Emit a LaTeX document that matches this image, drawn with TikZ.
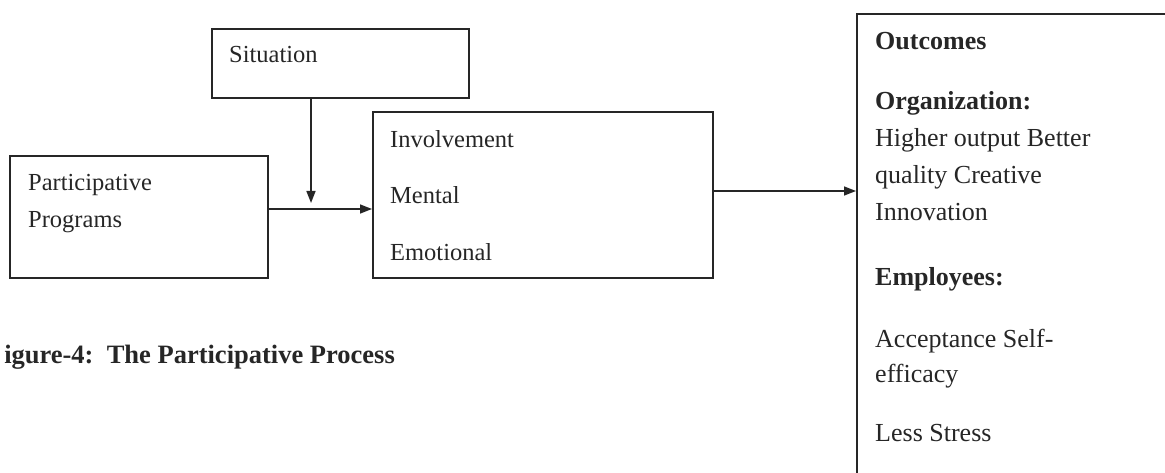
\documentclass[tikz,border=0pt]{standalone}
\usepackage{fontspec}
\setmainfont{Liberation Serif}
\usetikzlibrary{arrows.meta}
\definecolor{ink}{HTML}{262626}
\tikzset{
  boxnode/.style={draw=ink, line width=1.6pt, inner sep=0pt, anchor=north west},
  lbl/.style={anchor=base west, inner sep=0pt, text=ink, font=\fontsize{24.5}{29}\selectfont},
  rlbl/.style={anchor=base west, inner sep=0pt, text=ink, font=\fontsize{26}{31}\selectfont},
  rbold/.style={rlbl, font=\fontsize{26}{31}\selectfont\bfseries},
  link/.style={draw=ink, line width=1.6pt, -{Triangle[length=12pt,width=9pt]}}
}
\begin{document}
\begin{tikzpicture}[x=1pt,y=-1pt]
\useasboundingbox (0,0) rectangle (1165,473);

% boxes
\node[boxnode, minimum width=257pt, minimum height=69pt] (sit) at (211,28) {};
\node[boxnode, minimum width=258pt, minimum height=122pt] (prog) at (9,155) {};
\node[boxnode, minimum width=340pt, minimum height=166pt] (inv) at (372,111) {};
\node[boxnode, minimum width=330pt, minimum height=480pt] (out) at (856,13) {};

% box texts
\node[lbl] (tsit) at (229,63) {Situation};
\node[lbl] (tprog1) at (28,191) {Participative};
\node[lbl] (tprog2) at (28,228) {Programs};
\node[lbl] (tinv1) at (390,148) {Involvement};
\node[lbl] (tinv2) at (390,204) {Mental};
\node[lbl] (tinv3) at (390,261) {Emotional};

\node[rbold] (o1) at (875,50) {Outcomes};
\node[rbold] (o2) at (875,110) {Organization:};
\node[rlbl] (o3) at (875,147) {Higher output Better};
\node[rlbl] (o4) at (875,184) {quality Creative};
\node[rlbl] (o5) at (875,221) {Innovation};
\node[rbold] (o6) at (875,285) {Employees:};
\node[rlbl] (o7) at (875,347) {Acceptance Self-};
\node[rlbl] (o8) at (875,382) {efficacy};
\node[rlbl] (o9) at (875,441) {Less Stress};

% caption
\node[anchor=base east, inner sep=0pt, text=ink, font=\fontsize{26.5}{31}\selectfont\bfseries] (cap) at (395,363) {igure-4:\ \ The Participative Process};

% connectors
\coordinate (sitend) at (311,203);
\path[link] (sit.south -| sitend) -- (sitend);
\path[link] (prog.east |- 0,209) -- (inv.west |- 0,209);
\path[link] (inv.east |- 0,191) -- (out.west |- 0,191);
\end{tikzpicture}
\end{document}
